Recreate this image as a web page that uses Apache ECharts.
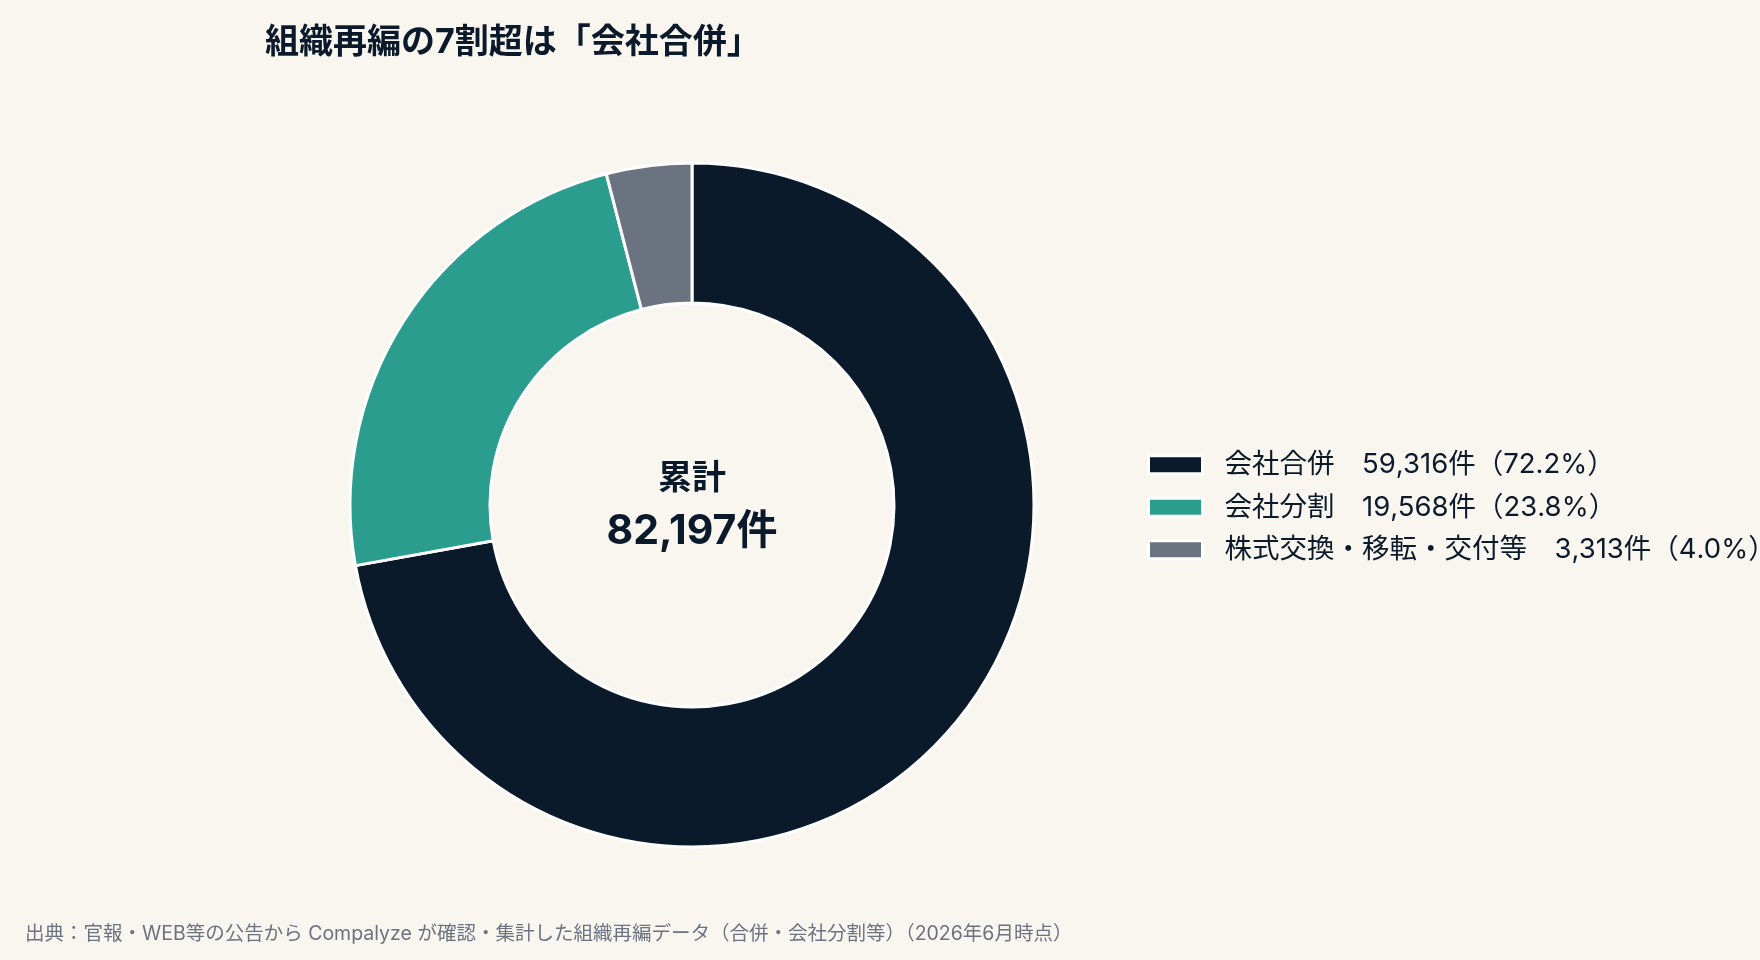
<!DOCTYPE html>
<html>
<head>
<meta charset="utf-8">
<script src="https://cdn.jsdelivr.net/npm/echarts@6/dist/echarts.min.js"></script>
<style>
  html, body { margin: 0; padding: 0; background: #f9f6f0; }
  #main { width: 1760px; height: 960px; }
</style>
</head>
<body>
<div id="main"></div>
<script>
const categories = ['会社合併', '会社分割', '株式交換・移転・交付等'];
const counts = [59316, 19568, 3313];
const colors = ['#0b1a2a', '#2a9d8f', '#6b7280'];

const total = counts.reduce((a, b) => a + b, 0);
const fmt = (n) => n.toLocaleString('en-US');
const font = 'Inter, "Noto Sans CJK JP", sans-serif';

const chart = echarts.init(document.getElementById('main'));

chart.setOption({
  backgroundColor: '#f9f6f0',
  title: {
    text: '組織再編の7割超は「会社合併」',
    left: 260,
    top: 21,
    textStyle: { fontFamily: font, fontSize: 34, fontWeight: 'bold', color: '#0b1a2a' }
  },
  legend: {
    orient: 'vertical',
    left: 1142,
    top: 446,
    itemWidth: 54,
    itemHeight: 18,
    itemGap: 15,
    icon: 'rect',
    itemStyle: { borderColor: '#ffffff', borderWidth: 3 },
    textStyle: { fontFamily: font, fontSize: 27.5, color: '#0b1a2a', padding: [0, 0, 0, 17] },
    formatter: function (name) {
      const i = categories.indexOf(name);
      const pct = (counts[i] / total * 100).toFixed(1);
      return name + '　' + fmt(counts[i]) + '件（' + pct + '%）';
    }
  },
  graphic: [
    {
      type: 'text',
      style: {
        text: '累計',
        x: 692, y: 479,
        align: 'center', verticalAlign: 'middle',
        font: 'bold 34px ' + font,
        fill: '#0b1a2a'
      }
    },
    {
      type: 'text',
      style: {
        text: fmt(total) + '件',
        x: 692, y: 532,
        align: 'center', verticalAlign: 'middle',
        font: 'bold 41px ' + font,
        fill: '#0b1a2a'
      }
    },
    {
      type: 'text',
      style: {
        text: '出典：官報・WEB等の公告から Compalyze が確認・集計した組織再編データ（合併・会社分割等）（2026年6月時点）',
        x: 25, y: 934,
        verticalAlign: 'middle',
        font: '19.5px ' + font,
        fill: '#6b7280'
      }
    }
  ],
  series: [
    {
      type: 'pie',
      center: [692, 505],
      radius: [202, 342],
      startAngle: 90,
      clockwise: true,
      label: { show: false },
      labelLine: { show: false },
      emphasis: { disabled: true },
      itemStyle: { borderColor: '#ffffff', borderWidth: 3 },
      data: categories.map((name, i) => ({
        name: name,
        value: counts[i],
        itemStyle: { color: colors[i] }
      }))
    }
  ]
});
</script>
</body>
</html>
